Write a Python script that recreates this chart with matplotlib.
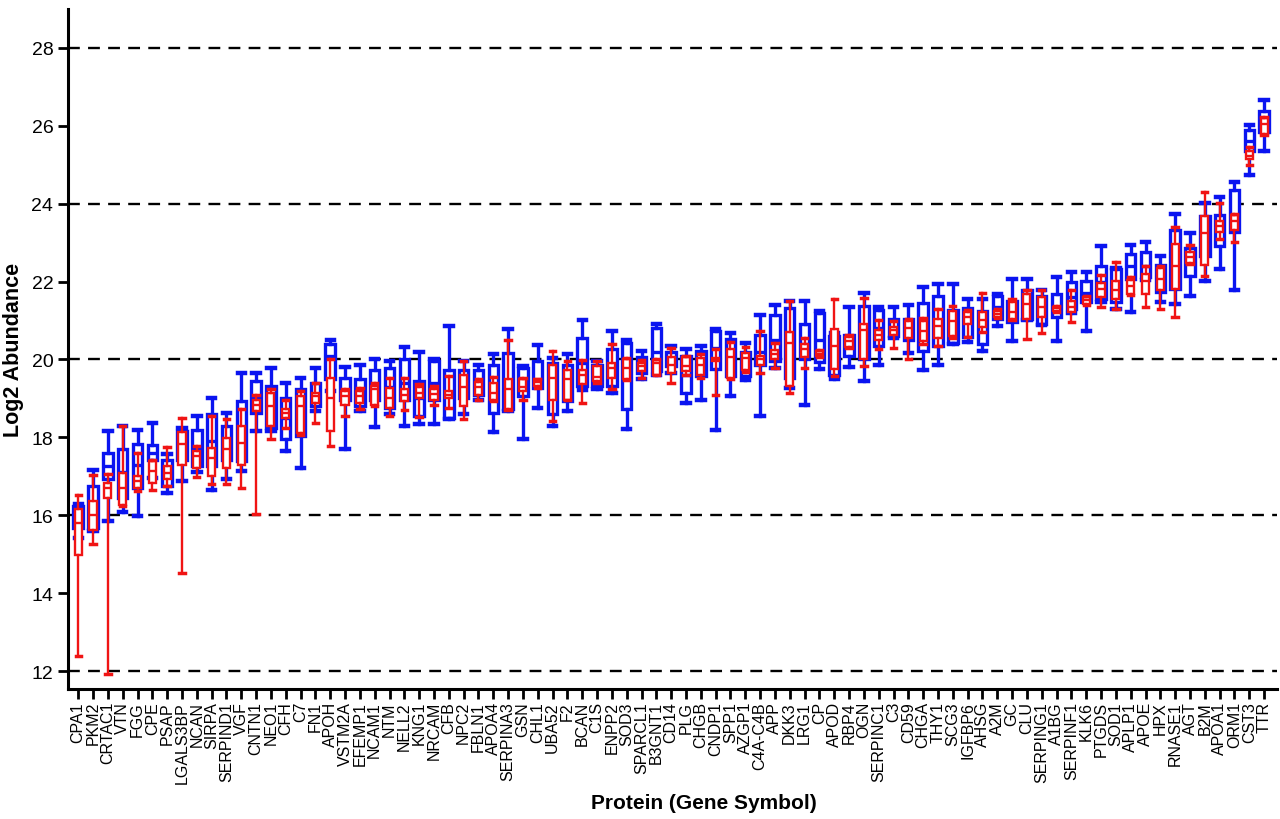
#!/usr/bin/env python3

import matplotlib
matplotlib.use('Agg')
from matplotlib import pyplot as plt

proteins = ['CPA1', 'PKM2', 'CRTAC1', 'VTN', 'FGG', 'CPE', 'PSAP', 'LGALS3BP', 'NCAN', 'SIRPA',
            'SERPIND1', 'VGF', 'CNTN1', 'NEO1', 'CFH', 'C7', 'FN1', 'APOH', 'VSTM2A', 'EFEMP1',
            'NCAM1', 'NTM', 'NELL2', 'KNG1', 'NRCAM', 'CFB', 'NPC2', 'FBLN1', 'APOA4', 'SERPINA3',
            'GSN', 'CHL1', 'UBA52', 'F2', 'BCAN', 'C1S', 'ENPP2', 'SOD3', 'SPARCL1', 'B3GNT1',
            'CD14', 'PLG', 'CHGB', 'CNDP1', 'SPP1', 'AZGP1', 'C4A-C4B', 'APP', 'DKK3', 'LRG1',
            'CP', 'APOD', 'RBP4', 'OGN', 'SERPINC1', 'C3', 'CD59', 'CHGA', 'THY1', 'SCG3',
            'IGFBP6', 'AHSG', 'A2M', 'GC', 'CLU', 'SERPING1', 'A1BG', 'SERPINF1', 'KLK6', 'PTGDS',
            'SOD1', 'APLP1', 'APOE', 'HPX', 'RNASE1', 'AGT', 'B2M', 'APOA1', 'ORM1', 'CST3', 'TTR']

# blue group: lower whisker, q1, median, q3, upper whisker
blue_lo  = [15.42, 15.60, 15.86, 16.08, 15.99, 16.96, 16.58, 16.87, 17.10, 16.66,
            16.92, 17.13, 18.16, 18.16, 17.65, 17.22, 18.67, 19.20, 17.71, 18.67,
            18.26, 18.59, 18.30, 18.35, 18.33, 18.48, 18.59, 18.97, 18.13, 18.67,
            17.95, 18.76, 18.29, 18.67, 19.21, 19.25, 19.14, 18.22, 19.49, 19.61,
            19.66, 18.89, 18.97, 18.20, 19.06, 19.46, 18.56, 19.79, 19.27, 18.82,
            19.76, 19.49, 19.81, 19.44, 19.87, 20.56, 20.17, 19.73, 19.87, 20.40,
            20.44, 20.22, 20.85, 20.48, 21.00, 20.88, 20.48, 21.20, 20.74, 21.47,
            21.29, 21.23, 22.05, 21.47, 21.42, 21.64, 22.02, 22.32, 21.78, 24.74, 25.36]
blue_q1  = [15.68, 15.68, 16.94, 16.45, 16.70, 17.43, 16.75, 17.43, 17.26, 17.26,
            17.43, 17.39, 18.63, 18.24, 17.97, 18.03, 18.80, 19.50, 18.97, 18.80,
            18.97, 18.76, 18.97, 18.54, 18.97, 18.50, 19.02, 19.10, 18.63, 18.72,
            19.06, 19.27, 18.59, 18.93, 19.33, 19.32, 19.33, 18.72, 19.64, 19.70,
            19.83, 19.13, 19.57, 19.76, 19.57, 19.57, 19.87, 19.96, 19.53, 20.00,
            19.93, 19.59, 20.09, 20.00, 20.34, 20.60, 20.51, 20.21, 20.34, 20.43,
            20.57, 20.40, 21.04, 20.95, 21.04, 20.91, 21.08, 21.29, 21.47, 21.55,
            21.47, 22.07, 22.11, 21.72, 21.81, 22.15, 22.66, 22.92, 23.26, 25.34, 25.85]
blue_med = [15.90, 16.20, 17.26, 17.10, 17.30, 17.60, 17.09, 17.80, 17.70, 17.90,
            17.80, 18.00, 19.00, 18.80, 18.50, 18.70, 19.10, 20.10, 19.20, 19.10,
            19.30, 19.30, 19.40, 19.00, 19.40, 19.10, 19.40, 19.45, 19.20, 19.40,
            19.40, 19.45, 19.30, 19.40, 19.90, 19.60, 19.80, 19.60, 19.85, 20.20,
            20.00, 19.60, 19.90, 20.30, 20.10, 19.90, 20.20, 20.50, 20.40, 20.40,
            20.50, 20.10, 20.40, 20.70, 20.80, 20.80, 20.80, 20.80, 21.00, 20.90,
            21.00, 20.90, 21.35, 21.20, 21.50, 21.30, 21.35, 21.60, 21.70, 22.00,
            21.90, 22.40, 22.40, 22.10, 22.60, 22.50, 23.05, 23.40, 23.60, 25.60, 26.10]
blue_q3  = [16.23, 16.75, 17.60, 17.70, 17.82, 17.80, 17.43, 18.16, 18.20, 18.61,
            18.29, 18.93, 19.44, 19.32, 19.02, 19.23, 19.40, 20.40, 19.53, 19.49,
            19.74, 19.79, 20.02, 19.44, 19.96, 19.74, 19.74, 19.74, 19.87, 20.17,
            19.79, 19.96, 19.91, 19.87, 20.54, 19.87, 20.26, 20.43, 20.07, 20.81,
            20.19, 20.10, 20.21, 20.73, 20.53, 20.19, 20.64, 21.13, 21.33, 20.90,
            21.20, 20.60, 20.64, 21.37, 21.28, 21.04, 21.03, 21.44, 21.63, 21.28,
            21.31, 21.25, 21.64, 21.51, 21.79, 21.64, 21.68, 21.98, 22.02, 22.41,
            22.32, 22.71, 22.75, 22.42, 23.31, 22.85, 23.69, 23.71, 24.36, 25.90, 26.39]
blue_hi  = [16.30, 17.16, 18.16, 18.29, 18.18, 18.37, 17.56, 18.24, 18.54, 19.02,
            18.63, 19.66, 19.64, 19.79, 19.40, 19.53, 19.79, 20.50, 19.81, 19.87,
            20.00, 19.97, 20.32, 20.20, 20.02, 20.86, 19.96, 19.85, 20.13, 20.79,
            19.83, 20.37, 20.04, 20.13, 21.01, 19.96, 20.74, 20.51, 20.21, 20.92,
            20.34, 20.27, 20.34, 20.79, 20.67, 20.43, 21.13, 21.40, 21.50, 21.50,
            21.24, 20.67, 21.34, 21.71, 21.35, 21.35, 21.41, 21.87, 21.93, 21.93,
            21.55, 21.55, 21.68, 22.07, 22.07, 21.79, 22.11, 22.25, 22.25, 22.92,
            22.34, 22.95, 23.01, 22.65, 23.73, 23.25, 24.02, 24.16, 24.55, 26.02, 26.67]

# red group: lower whisker, q1, median, q3, upper whisker
red_lo  = [12.40, 15.27, 11.93, 16.23, 16.62, 16.66, 16.75, 14.52, 16.99, 16.79,
           16.79, 16.70, 16.02, 17.95, 18.24, 18.07, 18.37, 17.79, 18.54, 18.72,
           18.80, 18.56, 18.69, 18.53, 18.84, 18.76, 18.46, 18.97, 18.93, 18.70,
           18.97, 19.27, 18.42, 18.95, 18.87, 19.40, 19.23, 19.47, 19.53, 19.60,
           19.40, 19.61, 19.53, 19.08, 19.50, 19.67, 19.66, 19.79, 19.13, 19.79,
           20.05, 19.57, 20.30, 19.83, 20.26, 20.30, 20.00, 20.39, 20.34, 20.56,
           20.57, 20.70, 21.06, 21.02, 20.52, 20.68, 21.22, 20.97, 21.40, 21.34,
           21.29, 21.66, 21.34, 21.29, 21.08, 22.46, 22.15, 23.09, 23.02, 24.99, 25.75]
red_q1  = [14.97, 15.63, 16.45, 16.26, 16.70, 16.82, 16.92, 17.30, 17.22, 17.00,
           17.22, 17.28, 18.67, 18.29, 18.50, 18.12, 18.89, 18.16, 18.84, 18.89,
           18.84, 18.76, 18.93, 19.02, 18.97, 19.02, 18.80, 19.08, 18.97, 18.72,
           19.19, 19.33, 18.97, 18.97, 19.36, 19.44, 19.53, 19.49, 19.70, 19.61,
           19.66, 19.70, 19.61, 19.96, 19.53, 19.74, 19.87, 20.00, 19.32, 20.07,
           20.09, 19.76, 20.33, 20.00, 20.50, 20.62, 20.56, 20.47, 20.56, 20.60,
           20.91, 20.82, 21.08, 21.04, 21.04, 21.08, 21.25, 21.21, 21.42, 21.60,
           21.55, 21.68, 21.68, 21.77, 21.81, 22.48, 22.42, 23.26, 23.31, 25.15, 25.79]
red_med = [15.80, 16.00, 16.70, 16.70, 16.87, 17.13, 17.09, 17.82, 17.52, 17.47,
           17.69, 17.86, 18.84, 18.80, 18.63, 18.80, 19.06, 19.02, 19.06, 19.06,
           19.23, 19.02, 19.10, 19.14, 19.12, 19.08, 19.30, 19.30, 19.14, 19.23,
           19.30, 19.42, 19.53, 19.49, 19.59, 19.55, 19.79, 19.77, 19.83, 19.91,
           19.87, 19.83, 19.85, 20.00, 20.07, 20.04, 20.00, 20.15, 20.41, 20.26,
           20.15, 20.34, 20.47, 20.75, 20.64, 20.75, 20.81, 20.73, 20.86, 20.98,
           21.08, 21.00, 21.17, 21.21, 21.42, 21.34, 21.31, 21.34, 21.53, 21.81,
           21.77, 21.89, 22.02, 22.07, 22.41, 22.62, 23.25, 23.43, 23.56, 25.23, 26.05]
red_q3  = [16.15, 16.36, 16.83, 17.09, 17.00, 17.39, 17.26, 18.13, 17.65, 17.73,
           17.99, 18.29, 18.97, 19.14, 18.72, 19.06, 19.14, 19.53, 19.19, 19.19,
           19.33, 19.27, 19.23, 19.30, 19.23, 19.19, 19.61, 19.42, 19.40, 19.49,
           19.49, 19.49, 19.87, 19.74, 19.74, 19.83, 19.91, 20.00, 19.91, 19.99,
           20.07, 20.07, 20.04, 20.04, 20.26, 20.17, 20.10, 20.24, 20.70, 20.39,
           20.21, 20.77, 20.58, 20.90, 20.75, 20.84, 20.98, 20.98, 21.03, 21.24,
           21.21, 21.21, 21.25, 21.47, 21.68, 21.60, 21.35, 21.51, 21.60, 21.96,
           22.02, 22.04, 22.19, 22.34, 22.96, 22.75, 23.67, 23.56, 23.71, 25.34, 26.19]
red_hi  = [16.53, 17.03, 17.05, 18.29, 17.60, 17.43, 17.76, 18.50, 17.77, 18.54,
           18.46, 18.72, 19.10, 19.23, 18.97, 19.19, 19.40, 20.00, 19.23, 19.27,
           19.40, 19.53, 19.53, 19.36, 19.33, 19.57, 19.96, 19.49, 19.55, 20.49,
           19.53, 19.50, 20.21, 19.96, 19.98, 19.96, 20.40, 20.04, 19.98, 20.00,
           20.30, 20.10, 20.13, 20.27, 20.45, 20.33, 20.73, 20.43, 21.50, 20.56,
           20.24, 21.54, 20.62, 21.58, 21.01, 20.98, 21.03, 21.07, 21.30, 21.37,
           21.28, 21.70, 21.29, 21.55, 21.79, 21.79, 21.38, 21.79, 21.64, 22.17,
           22.51, 22.11, 22.39, 22.39, 23.39, 22.94, 24.31, 24.02, 23.73, 25.45, 26.22]

yticks = [12, 14, 16, 18, 20, 22, 24, 26, 28]
gridlines = [12, 16, 20, 24, 28]


def make_stats(lo, q1, med, q3, hi):
    return [dict(whislo=a, q1=b, med=c, q3=d, whishi=e)
            for a, b, c, d, e in zip(lo, q1, med, q3, hi)]


def draw_boxes(ax, stats, color, lw, width, capw, z):
    pos = list(range(len(stats)))
    ax.bxp(stats, positions=pos, widths=width, capwidths=capw, showfliers=False,
           patch_artist=True, manage_ticks=False, zorder=z,
           boxprops=dict(facecolor='white', edgecolor=color, linewidth=lw),
           whiskerprops=dict(color=color, linewidth=lw),
           capprops=dict(color=color, linewidth=lw + 0.8),
           medianprops=dict(color=color, linewidth=lw))


plt.rcParams['font.family'] = ['Liberation Sans', 'DejaVu Sans']

fig = plt.figure(figsize=(12.8, 8.2), dpi=100)
ax = fig.add_axes([0.053, 0.159, 0.945, 0.829])

for g in gridlines:
    ax.axhline(g, color='black', linestyle=(0, (5, 3.5)), linewidth=1.7, zorder=0)

draw_boxes(ax, make_stats(blue_lo, blue_q1, blue_med, blue_q3, blue_hi),
           '#0a14f0', 2.4, 0.64, 0.5, 2)
draw_boxes(ax, make_stats(red_lo, red_q1, red_med, red_q3, red_hi),
           '#f01414', 1.7, 0.48, 0.36, 3)

ax.set_xlim(-0.7, 80.9)
ax.set_ylim(11.55, 29.0)
ax.set_yticks(yticks)
ax.set_xticks(range(len(proteins)))
ax.set_xticklabels(proteins, rotation=90, fontsize=11.5)
ax.tick_params(axis='y', labelsize=14, direction='out', length=7, width=2)
ax.tick_params(axis='x', direction='out', length=7, width=2, pad=2)

for side in ['top', 'right']:
    ax.spines[side].set_visible(False)
for side in ['left', 'bottom']:
    ax.spines[side].set_linewidth(2.2)

ax.set_ylabel('Log2 Abundance', fontsize=15.5, fontweight='bold')
ax.set_xlabel('Protein (Gene Symbol)', fontsize=15, fontweight='bold')
ax.yaxis.set_label_coords(-0.036, 0.5)
ax.xaxis.set_label_coords(0.526, -0.154)

fig.savefig('out.png', dpi=100)
